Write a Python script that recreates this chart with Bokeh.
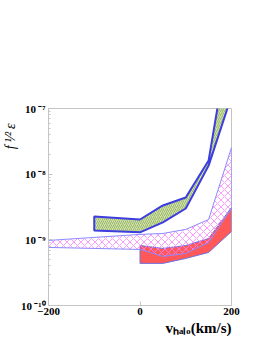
from bokeh.plotting import figure
from bokeh.models import Range1d, Title, FixedTicker, CustomJSTickFormatter
from bokeh.embed import file_html
from bokeh.resources import INLINE

# ---- data ----
v_green = [-100, 0, 50, 100, 150, 200]
green_hi = [2.27e-9, 2.04e-9, 3.34e-9, 4.42e-9, 1.62e-8, 1.9e-6]
green_lo = [1.39e-9, 1.30e-9, 1.84e-9, 3.0e-9, 1.35e-8, 1.55e-7]

v_pink = [-200, 0, 50, 100, 150, 200]
pink_hi = [9.8e-10, 1.21e-9, 1.25e-9, 1.44e-9, 2.04e-9, 2.55e-8]
pink_lo = [7.66e-10, 7.14e-10, 5.59e-10, 6.2e-10, 9.1e-10, 3.0e-9]

v_red = [0, 50, 100, 150, 200]
red_hi = [8.2e-10, 7.4e-10, 8.2e-10, 1.05e-9, 3.11e-9]
red_lo = [4.38e-10, 4.38e-10, 5.21e-10, 6.43e-10, 1.34e-9]

x_ticks = [-200, 0, 200]
y_ticks = [1e-10, 1e-9, 1e-8, 1e-7]
y_tick_labels = ["10\u2009\u207b\u00b9\u2070", "10\u2009\u207b\u2079",
                 "10\u2009\u207b\u2078", "10\u2009\u207b\u2077"]
x_title = "v\u2095\u2090\u2097\u2092(km/s)"
y_title = "f\u2009\u00b9\u2044\u00b2\u2009\u03b5"

SERIF = "Liberation Serif"
GRAY = "#c4c4c4"

p = figure(width=262, height=339,
           x_range=Range1d(-200, 200), y_range=Range1d(1e-10, 1e-7),
           y_axis_type="log", output_backend="svg", toolbar_location=None,
           min_border_left=48, min_border_right=31,
           min_border_top=108, min_border_bottom=34)
p.grid.visible = False
p.outline_line_color = GRAY
p.background_fill_color = "white"
p.border_fill_color = "white"

p.xaxis.ticker = FixedTicker(ticks=x_ticks, minor_ticks=[])
p.yaxis.formatter = CustomJSTickFormatter(
    args=dict(dec_vals=y_ticks, dec_labels=y_tick_labels),
    code="""
      for (let i = 0; i < dec_vals.length; i++) {
        if (Math.abs(Math.log10(dec_vals[i]) - Math.log10(tick)) < 0.01) return dec_labels[i];
      }
      return '';
    """)
for ax in (p.xaxis[0], p.yaxis[0]):
    ax.axis_line_color = GRAY
    ax.major_tick_line_color = GRAY
    ax.minor_tick_line_color = GRAY
    ax.major_tick_in = 4
    ax.major_tick_out = 0
    ax.minor_tick_in = 2
    ax.minor_tick_out = 0
    ax.major_label_text_font = SERIF
    ax.major_label_text_font_style = "bold"
    ax.major_label_text_font_size = "11px"
    ax.major_label_text_color = "black"
p.xaxis.major_label_standoff = 2
p.yaxis.major_label_standoff = 3

# ---- bands ----
p.patch(x=v_red + v_red[::-1], y=red_hi + red_lo[::-1],
        fill_color="#ff5858", line_color="#7272dc", line_width=1)
p.patch(x=v_pink + v_pink[::-1], y=pink_hi + pink_lo[::-1],
        fill_color=None, hatch_pattern="x", hatch_color="#ff80ff",
        hatch_scale=7, hatch_weight=0.8,
        line_color="#8a8aff", line_width=1)
p.patch(x=v_green + v_green[::-1], y=green_hi + green_lo[::-1],
        fill_color="#d4e29c", hatch_pattern="/", hatch_color="#6f9a6a",
        hatch_scale=4, hatch_weight=0.6,
        line_color="#3c3ce0", line_width=2)

# ---- axis titles (side panels) ----
p.add_layout(Title(text=x_title, align="right", offset=0, standoff=0,
                   text_font=SERIF, text_font_style="bold",
                   text_font_size="15px", text_color="black"), "below")
p.add_layout(Title(text=y_title, align="right", offset=15, standoff=0,
                   text_font=SERIF, text_font_style="italic",
                   text_font_size="14px", text_color="black"), "left")

open("out.html", "w").write(file_html(p, INLINE))
